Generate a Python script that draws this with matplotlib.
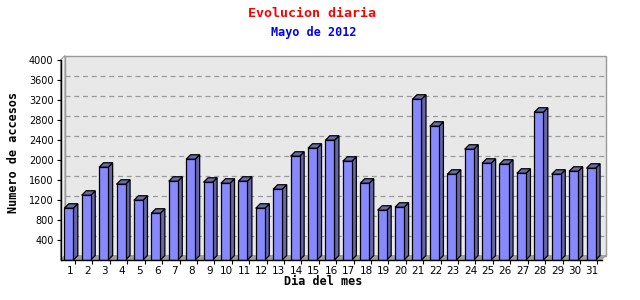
import matplotlib
matplotlib.use("Agg")
import matplotlib.pyplot as plt
from matplotlib.patches import Polygon
import numpy as np

days = list(range(1, 32))
accesos = [1035, 1295, 1855, 1515, 1195, 935, 1575, 2015, 1555, 1535,
           1575, 1035, 1415, 2075, 2235, 2395, 1975, 1535, 995, 1055,
           3215, 2675, 1715, 2215, 1935, 1915, 1735, 2955, 1715, 1775, 1835]
yticks = [400, 800, 1200, 1600, 2000, 2400, 2800, 3200, 3600, 4000]

title = "Evolucion diaria"
subtitle = "Mayo de 2012"
xlabel = "Dia del mes"
ylabel = "Numero de accesos"

W, H = 640, 300
fig = plt.figure(figsize=(6.4, 3.0), dpi=100)
fig.patch.set_facecolor("white")

ax_l, ax_r, ax_b, ax_t = 60.5, 601.5, 260, 60
ax = fig.add_axes([ax_l / W, 1 - ax_b / H, (ax_r - ax_l) / W, (ax_b - ax_t) / H])
ax.set_facecolor("none")

xl, xr = 0.523, 31.6
ax.set_xlim(xl, xr)
ax.set_ylim(0, 4000)

px_per_unit_x = (ax_r - ax_l) / (xr - xl)
units_per_px_y = 4000 / (ax_b - ax_t)
depth_px = 4.5
dx = depth_px / px_per_unit_x
dy = depth_px * units_per_px_y

# back wall
wall = Polygon([(xl + dx, dy), (xr + dx, dy), (xr + dx, 4000 + dy), (xl + dx, 4000 + dy)],
               closed=True, facecolor="#e8e8e8", edgecolor="#999999", lw=1.0,
               clip_on=False, zorder=0)
ax.add_patch(wall)
# left wall
lwall = Polygon([(xl, 0), (xl + dx, dy), (xl + dx, 4000 + dy), (xl, 4000)],
                closed=True, facecolor="#f0f0f0", edgecolor="#999999", lw=0.8,
                clip_on=False, zorder=0)
ax.add_patch(lwall)
# floor
floor = Polygon([(xl, 0), (xr, 0), (xr + dx, dy), (xl + dx, dy)],
                closed=True, facecolor="#a0a0a0", edgecolor="#999999", lw=0.5,
                clip_on=False, zorder=0.5)
ax.add_patch(floor)

# grid lines on back wall
for v in yticks[:-1]:
    ax.plot([xl + dx, xr + dx], [v + dy, v + dy], color="#999999", lw=0.9,
            ls=(0, (4, 3)), clip_on=False, zorder=0.6)

# bars
w = 0.52
x = np.array(days, dtype=float)
ax.bar(x, accesos, width=w, color="#8888ff", edgecolor="black", lw=0.9, zorder=3)
for xi, v in zip(x, accesos):
    side = Polygon([(xi + w / 2, 0), (xi + w / 2 + dx, dy), (xi + w / 2 + dx, v + dy), (xi + w / 2, v)],
                   closed=True, facecolor="#6666a6", edgecolor="black", lw=0.9,
                   clip_on=False, zorder=2.9)
    top = Polygon([(xi - w / 2, v), (xi + w / 2, v), (xi + w / 2 + dx, v + dy), (xi - w / 2 + dx, v + dy)],
                  closed=True, facecolor="#6b6bab", edgecolor="black", lw=0.9,
                  clip_on=False, zorder=2.9)
    ax.add_patch(side)
    ax.add_patch(top)

# axes styling
for s in ["top", "right"]:
    ax.spines[s].set_visible(False)
for s in ["left", "bottom"]:
    ax.spines[s].set_color("black")
    ax.spines[s].set_linewidth(1.0)
    ax.spines[s].set_zorder(4)

ax.set_yticks(yticks)
ax.set_yticklabels([str(v) for v in yticks], fontsize=7, family="DejaVu Sans")
ax.tick_params(axis="y", direction="out", length=3, width=0.8, pad=2)

# x ticks at slot boundaries (minor), labels at bar centers (major, no tick mark)
ax.set_xticks(x + 0.07)
ax.set_xticklabels([str(d) for d in days], fontsize=7.5, family="DejaVu Sans")
ax.tick_params(axis="x", which="major", length=0, pad=4)
ax.set_xticks(x + 0.36, minor=True)
ax.tick_params(axis="x", which="minor", direction="out", length=3, width=0.8)

# titles and labels
fig.text(312 / W, 1 - 13.5 / H, title, color="#ff0000", fontsize=9.6,
         family="DejaVu Sans Mono", fontweight="bold", ha="center", va="center")
fig.text(313.5 / W, 1 - 32.5 / H, subtitle, color="#0000ff", fontsize=8.5,
         family="DejaVu Sans Mono", fontweight="bold", ha="center", va="center")
fig.text(323.5 / W, 1 - 281.5 / H, xlabel, color="black", fontsize=8.5,
         family="DejaVu Sans Mono", fontweight="bold", ha="center", va="center")
fig.text(14 / W, 1 - 152 / H, ylabel, color="black", fontsize=8.5,
         family="DejaVu Sans Mono", fontweight="bold", ha="center", va="center",
         rotation=90)

fig.savefig("out.png", dpi=100, facecolor="white")
